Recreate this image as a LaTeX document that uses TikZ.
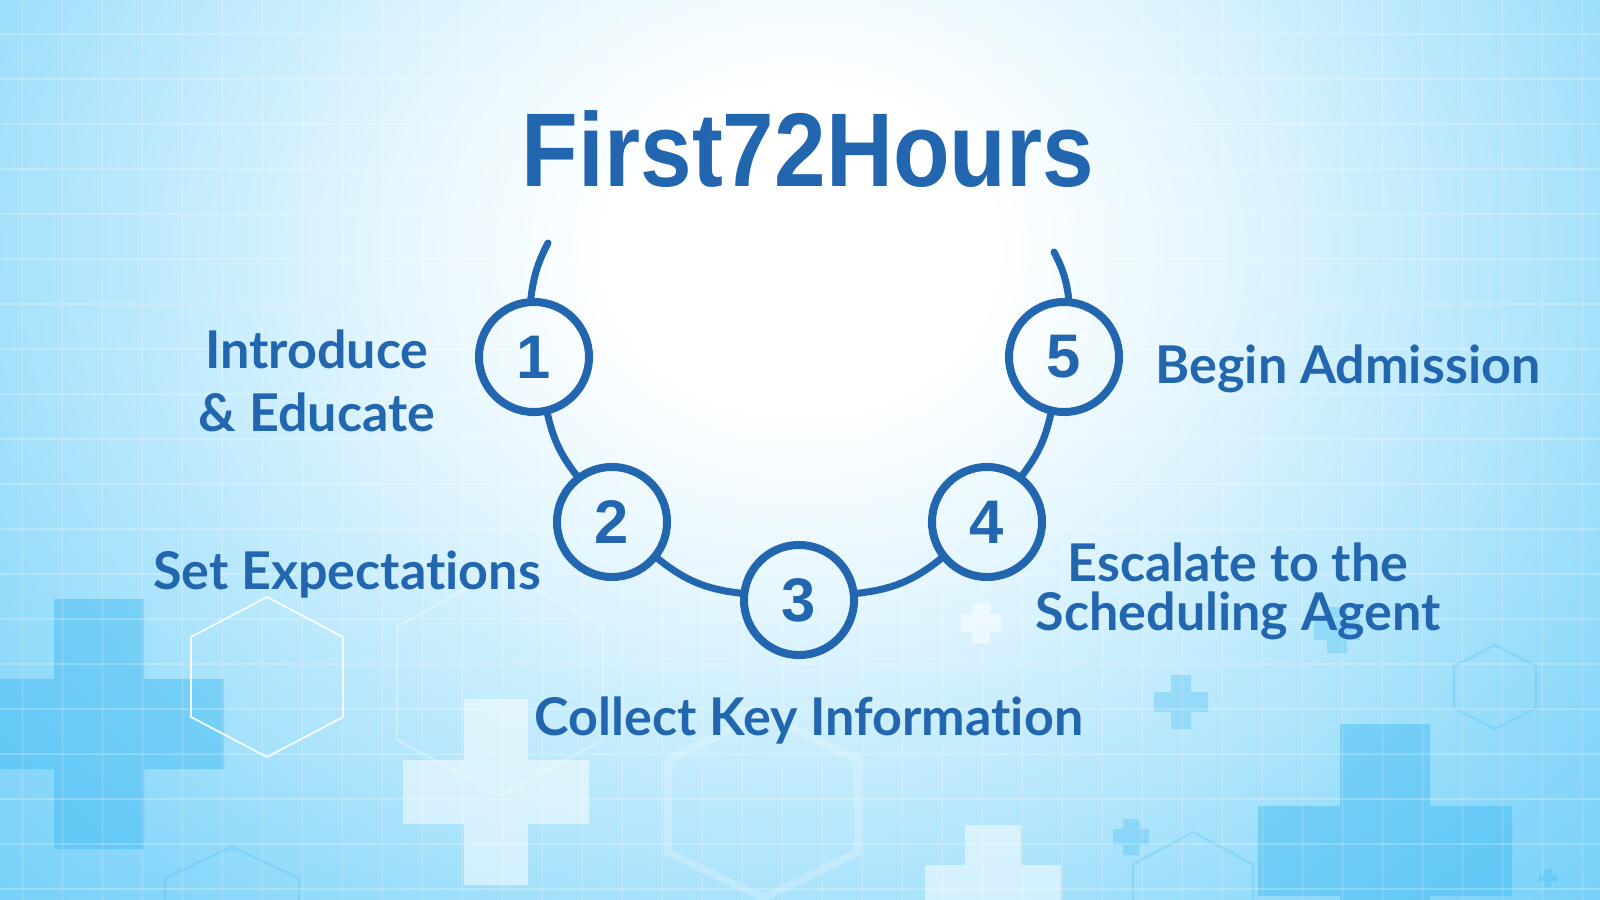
\documentclass[tikz,border=0pt]{standalone}
\usepackage{fontspec}
\setmainfont{Lato}[Ligatures=NoCommon]
\newfontfamily\titlefont{Liberation Sans}
\definecolor{tblue}{HTML}{2166AF}
\definecolor{bgA}{HTML}{E4F6FE}
\definecolor{bgB}{HTML}{B2E6FC}
\definecolor{bgC}{HTML}{8CD8FA}
\definecolor{bgD}{HTML}{62CAF6}
\definecolor{crossblue}{HTML}{3DBBF3}
\pgfdeclareradialshading{bgshade}{\pgfpoint{0bp}{0bp}}{color(0bp)=(white); color(5bp)=(white); color(11bp)=(bgA); color(19bp)=(bgB); color(25bp)=(bgC); color(33bp)=(bgD); color(50bp)=(bgD)}
\newcommand\mcross[5]{%
  \fill[#5] (#1-#4,#2-#3) -- (#1+#4,#2-#3) -- (#1+#4,#2-#4) -- (#1+#3,#2-#4) -- (#1+#3,#2+#4) -- (#1+#4,#2+#4) -- (#1+#4,#2+#3) -- (#1-#4,#2+#3) -- (#1-#4,#2+#4) -- (#1-#3,#2+#4) -- (#1-#3,#2-#4) -- (#1-#4,#2-#4) -- cycle;}
\newcommand\mhex[5]{%
  \draw[#5] (#1,#2-#4) -- (#1+#3,#2-#4/2) -- (#1+#3,#2+#4/2) -- (#1,#2+#4) -- (#1-#3,#2+#4/2) -- (#1-#3,#2-#4/2) -- cycle;}
\tikzset{
  bigcross/.style={fill=crossblue, fill opacity=0.45},
  bluecross/.style={fill=crossblue, fill opacity=0.3},
  lightcross/.style={fill=white, fill opacity=0.5},
  gridline/.style={draw=white, draw opacity=0.22, line width=0.4pt},
  hexwhite/.style={draw=white, draw opacity=0.9, line width=0.5pt, line join=round},
  hexfaint/.style={draw=white, draw opacity=0.3, line width=0.7pt, line join=round},
  hexthick/.style={draw=white, draw opacity=0.22, line width=2.2pt, line join=round},
  hexblue/.style={draw=crossblue, draw opacity=0.25, line width=0.6pt, line join=round},
  stepcircle/.style={circle, draw=tblue, line width=0.08cm, minimum size=1.1cm, inner sep=0pt,
     text=tblue, font=\titlefont\bfseries\fontsize{17.5}{20}\selectfont},
  link/.style={draw=tblue, line width=0.07cm, line cap=round},
  lab/.style={text=tblue, anchor=base, align=center, inner sep=0pt,
     font=\bfseries\fontsize{14.8}{17.9}\selectfont},
}
\begin{document}
\begin{tikzpicture}[x=0.01cm,y=-0.01cm]
\useasboundingbox (0,0) rectangle (1600,900);
\begin{scope}
  \clip (0,0) rectangle (1600,900);
  \shade[shading=bgshade] (-150,-550) rectangle (1750,1050);
  % crosses
  \mcross{99}{724}{125}{45}{bigcross}
  \mcross{1385}{851}{127}{45}{bigcross}
  \mcross{496}{792}{93}{32}{lightcross}
  \mcross{993}{893}{68}{28}{lightcross}
  \mcross{981}{623}{20}{9}{lightcross}
  \mcross{1181}{702}{27}{10}{bluecross}
  \mcross{1131}{837}{18}{8}{bluecross}
  \mcross{1548}{878}{9}{3.5}{bluecross}
  \mcross{1337}{630}{23}{10}{bluecross}
  % hexagons
  \mhex{267}{677}{76}{80}{hexwhite}
  \mhex{500}{683}{103}{113}{hexfaint}
  \mhex{763}{806}{95}{92}{hexthick}
  \mhex{1495}{687}{41}{42}{hexblue}
  \mhex{232}{909}{67}{62}{hexblue}
  \mhex{1193}{897}{60}{65}{hexblue}
  % grid
  \foreach \i in {0,...,39} \draw[gridline] (22.7+40*\i,0) -- (22.7+40*\i,900);
  \foreach \j in {0,...,19} \draw[gridline] (0,34+45*\j) -- (1600,34+45*\j);
\end{scope}

% title
\node[anchor=base, inner sep=0pt, text=tblue, font=\titlefont\bfseries\fontsize{29.8}{34}\selectfont] (title) at (808,186) {\scalebox{0.885}[1]{First72Hours}};

% steps
\node[stepcircle] (n1) at (534,357) {1};
\node[stepcircle] (n2) at (612,522) {2};
\node[stepcircle] (n3) at (799,600) {3};
\node[stepcircle] (n4) at (987,522) {4};
\node[stepcircle] (n5) at (1064,357) {5};
\coordinate (tl) at (548,243);
\coordinate (tr) at (1054,252);
\draw[link] (tl) to[bend right=10] (n1);
\draw[link] (n1) to[bend right=12] (n2);
\draw[link] (n2) to[bend right=16] (n3);
\draw[link] (n3) to[bend right=16] (n4);
\draw[link] (n4) to[bend right=12] (n5);
\draw[link] (n5) to[bend right=10] (tr);

% labels
\node[lab] (l1) at (317,431) {Introduce\\\& Educate};
\node[lab] (l2) at (347,589) {Set Expectations};
\node[lab] (l3) at (809,735) {Collect Key Information};
\node[lab, font=\bfseries\fontsize{14.8}{13.9}\selectfont] (l4) at (1238,630) {Escalate to the\\Scheduling Agent};
\node[lab] (l5) at (1348,383) {Begin Admission};
\end{tikzpicture}
\end{document}
